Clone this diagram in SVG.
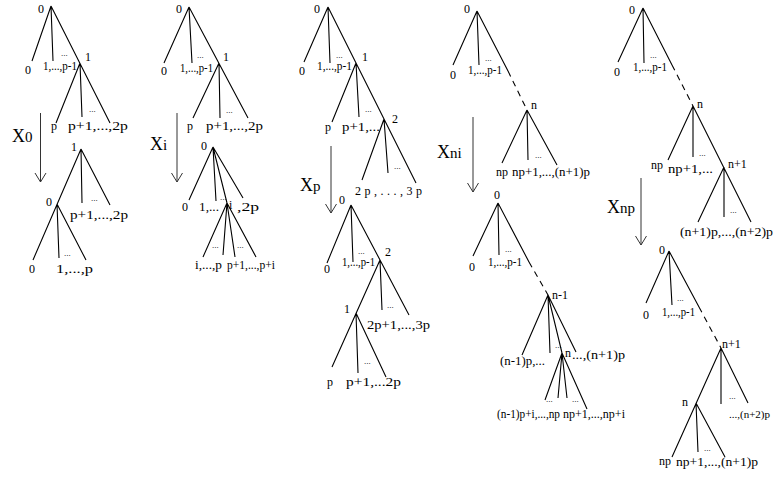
<svg xmlns="http://www.w3.org/2000/svg" width="774" height="480" viewBox="0 0 774 480">
<style>
.e{stroke:#000;stroke-width:1.1;fill:none}
.d{stroke:#000;stroke-width:1.1;fill:none;stroke-dasharray:6 5}
.a{stroke:#333;stroke-width:1;fill:none}
text{font-family:"Liberation Serif","Times New Roman",serif;font-size:12px;fill:#000}
.s{font-size:9px}
.x{font-size:18px}
.xs{font-size:15px}
</style>
<rect width="774" height="480" fill="#fff"/>
<g id="connectors">
<path class="e" d="M51,6L32,61M51,6L53,61M51,6L110,123M80,63L56,123M80,63L82,117"/>
<path class="e" d="M81,149L33,260M81,149L82,203M81,149L110,205M57,204L59,258M57,204L86,260"/>
<path class="e" d="M189,7L164,63M189,7L192,63M189,7L248,118M219,63L193,118M219,63L220,118"/>
<path class="e" d="M213,147L189,200M213,147L216,201M213,147L227,203M213,147L243,198M227,203L203,257M227,203L223,255M227,203L235,257M227,203L256,257"/>
<path class="e" d="M328,7L304,62M328,7L330,63M328,7L416,183M356,63L332,122M356,63L359,117M384,119L362,180M384,119L388,173"/>
<path class="e" d="M351,205L327,263M351,205L353,262M351,205L409,315M380,260L382,310M380,260L332,367M356,313L358,373M356,313L386,377"/>
<path class="e" d="M477,11L453,65M477,11L479,65M477,11L508,71M527,110L557,165M527,110L502,163M527,110L528,160"/>
<path class="d" d="M508,71L527,110"/>
<path class="e" d="M498,203L473,256M498,203L499,255M498,203L529,262M548,295L522,355M548,295L550,353M548,295L562,353M548,295L576,352M562,353L545,400M562,353L558,398M562,353L567,398M562,353L587,409"/>
<path class="d" d="M529,262L548,295"/>
<path class="e" d="M643,8L618,62M643,8L644,63M643,8L672,65M693,106L751,222M693,106L668,160M693,106L693,157M724,167L698,222M724,167L724,217"/>
<path class="d" d="M672,65L693,106"/>
<path class="e" d="M669,251L646,303M669,251L672,305M669,251L699,307M721,348L672,457M721,348L721,404M721,348L748,403M696,403L698,452M696,403L725,457"/>
<path class="d" d="M699,307L721,348"/>
<path class="a" d="M40.5,113V182M35,173L40.5,182L46,173"/>
<path class="a" d="M177,113V182M171.5,173L177,182L182.5,173"/>
<path class="a" d="M331,146V213M325.5,204L331,213L336.5,204"/>
<path class="a" d="M473,117V192M467.5,183L473,192L478.5,183"/>
<path class="a" d="M641,178V245M635.5,236L641,245L646.5,236"/>
</g>
<g id="op-X0"><text class="x" x="12" y="142">X<tspan class="xs">0</tspan></text></g>
<g id="op-Xi"><text class="x" x="150" y="150">X<tspan class="xs">i</tspan></text></g>
<g id="op-Xp"><text class="x" x="300" y="191">X<tspan class="xs">p</tspan></text></g>
<g id="op-Xni"><text class="x" x="437" y="158">X<tspan class="xs">ni</tspan></text></g>
<g id="op-Xnp"><text class="x" x="607" y="213">X<tspan class="xs">np</tspan></text></g>
<g id="tree1-before">
<text x="38" y="13">0</text>
<text x="25" y="74">0</text>
<text x="43" y="70" textLength="34" lengthAdjust="spacingAndGlyphs">1,...,p-1</text>
<text class="s" x="61" y="56">...</text>
<text x="85" y="61">1</text>
<text x="51" y="130">p</text>
<text x="68" y="130" textLength="60" lengthAdjust="spacingAndGlyphs">p+1,...,2p</text>
<text class="s" x="89" y="112">...</text>
</g>
<g id="tree1-after">
<text x="71" y="151">1</text>
<text x="46" y="206">0</text>
<text x="70" y="219" textLength="58" lengthAdjust="spacingAndGlyphs">p+1,...,2p</text>
<text class="s" x="91" y="201">...</text>
<text x="29" y="273">0</text>
<text x="56" y="273" textLength="37" lengthAdjust="spacingAndGlyphs">1,...,p</text>
<text class="s" x="64" y="256">...</text>
</g>
<g id="tree2-before">
<text x="176" y="13">0</text>
<text x="161" y="75">0</text>
<text x="180" y="72" textLength="33" lengthAdjust="spacingAndGlyphs">1,...,p-1</text>
<text class="s" x="197" y="58">...</text>
<text x="223" y="61">1</text>
<text x="187" y="130">p</text>
<text x="206" y="130" textLength="57" lengthAdjust="spacingAndGlyphs">p+1,...,2p</text>
<text class="s" x="226" y="113">...</text>
</g>
<g id="tree2-after">
<text x="201" y="150">0</text>
<text x="182" y="211">0</text>
<text x="199" y="211" textLength="20" lengthAdjust="spacingAndGlyphs">1,...</text>
<text class="s" x="220" y="200">...</text>
<text x="229" y="209">i</text>
<text x="237" y="211" textLength="22" lengthAdjust="spacingAndGlyphs">,2p</text>
<text class="s" x="212" y="248">...</text>
<text class="s" x="237" y="248">...</text>
<text x="195" y="269" textLength="27" lengthAdjust="spacingAndGlyphs">i,...,p</text>
<text x="227" y="269" textLength="48" lengthAdjust="spacingAndGlyphs">p+1,...,p+i</text>
</g>
<g id="tree3-before">
<text x="314" y="13">0</text>
<text x="299" y="75">0</text>
<text x="317" y="70" textLength="35" lengthAdjust="spacingAndGlyphs">1,...,p-1</text>
<text class="s" x="336" y="58">...</text>
<text x="362" y="61">1</text>
<text x="392" y="123">2</text>
<text x="325" y="131">p</text>
<text x="342" y="131" textLength="38" lengthAdjust="spacingAndGlyphs">p+1,...</text>
<text class="s" x="365" y="112">...</text>
<text x="355" y="195" textLength="67" lengthAdjust="spacing">2p,...,3p</text>
<text class="s" x="394" y="169">...</text>
</g>
<g id="tree3-after">
<text x="339" y="204">0</text>
<text x="324" y="273">0</text>
<text x="342" y="266" textLength="33" lengthAdjust="spacingAndGlyphs">1,...,p-1</text>
<text class="s" x="358" y="254">...</text>
<text x="385" y="256">2</text>
<text x="344" y="313">1</text>
<text x="367" y="329" textLength="63" lengthAdjust="spacingAndGlyphs">2p+1,...,3p</text>
<text class="s" x="387" y="308">...</text>
<text x="327" y="386">p</text>
<text x="346" y="386" textLength="55" lengthAdjust="spacingAndGlyphs">p+1,...2p</text>
<text class="s" x="364" y="364">...</text>
</g>
<g id="tree4-before">
<text x="464" y="13">0</text>
<text x="450" y="79">0</text>
<text x="468" y="74" textLength="34" lengthAdjust="spacingAndGlyphs">1,...,p-1</text>
<text class="s" x="485" y="61">...</text>
<text x="531" y="109">n</text>
<text x="496" y="176">np</text>
<text x="512" y="176" textLength="78" lengthAdjust="spacingAndGlyphs">np+1,...,(n+1)p</text>
<text class="s" x="535" y="158">...</text>
</g>
<g id="tree4-after">
<text x="494" y="199">0</text>
<text x="469" y="271">0</text>
<text x="488" y="266" textLength="34" lengthAdjust="spacingAndGlyphs">1,...,p-1</text>
<text class="s" x="505" y="252">...</text>
<text x="552" y="299">n-1</text>
<text x="500" y="365" textLength="45" lengthAdjust="spacingAndGlyphs">(n-1)p,...</text>
<text class="s" x="555" y="348">...</text>
<text x="565" y="357">n</text>
<text x="572" y="359" textLength="53" lengthAdjust="spacingAndGlyphs">...,(n+1)p</text>
<text class="s" x="546" y="402">...</text>
<text class="s" x="572" y="402">...</text>
<text x="497" y="418" textLength="63" lengthAdjust="spacingAndGlyphs">(n-1)p+i,...,np</text>
<text x="563" y="418" textLength="62" lengthAdjust="spacingAndGlyphs">np+1,...,np+i</text>
</g>
<g id="tree5-before">
<text x="629" y="14">0</text>
<text x="614" y="76">0</text>
<text x="633" y="71" textLength="34" lengthAdjust="spacingAndGlyphs">1,...,p-1</text>
<text class="s" x="650" y="58">...</text>
<text x="697" y="108">n</text>
<text x="651" y="169">np</text>
<text x="668" y="173" textLength="45" lengthAdjust="spacingAndGlyphs">np+1,...</text>
<text class="s" x="699" y="156">...</text>
<text x="728" y="168">n+1</text>
<text x="680" y="236" textLength="93" lengthAdjust="spacingAndGlyphs">(n+1)p,...,(n+2)p</text>
<text class="s" x="730" y="213">...</text>
</g>
<g id="tree5-after">
<text x="659" y="254">0</text>
<text x="643" y="319">0</text>
<text x="662" y="316" textLength="33" lengthAdjust="spacingAndGlyphs">1,...,p-1</text>
<text class="s" x="677" y="301">...</text>
<text x="722" y="348">n+1</text>
<text x="682" y="406">n</text>
<text x="729" y="418" style="font-size:11px" textLength="41" lengthAdjust="spacingAndGlyphs">...,(n+2)p</text>
<text class="s" x="729" y="399">...</text>
<text x="659" y="465">np</text>
<text x="676" y="466" textLength="82" lengthAdjust="spacingAndGlyphs">np+1,...,(n+1)p</text>
<text class="s" x="704" y="451">...</text>
</g>
</svg>
